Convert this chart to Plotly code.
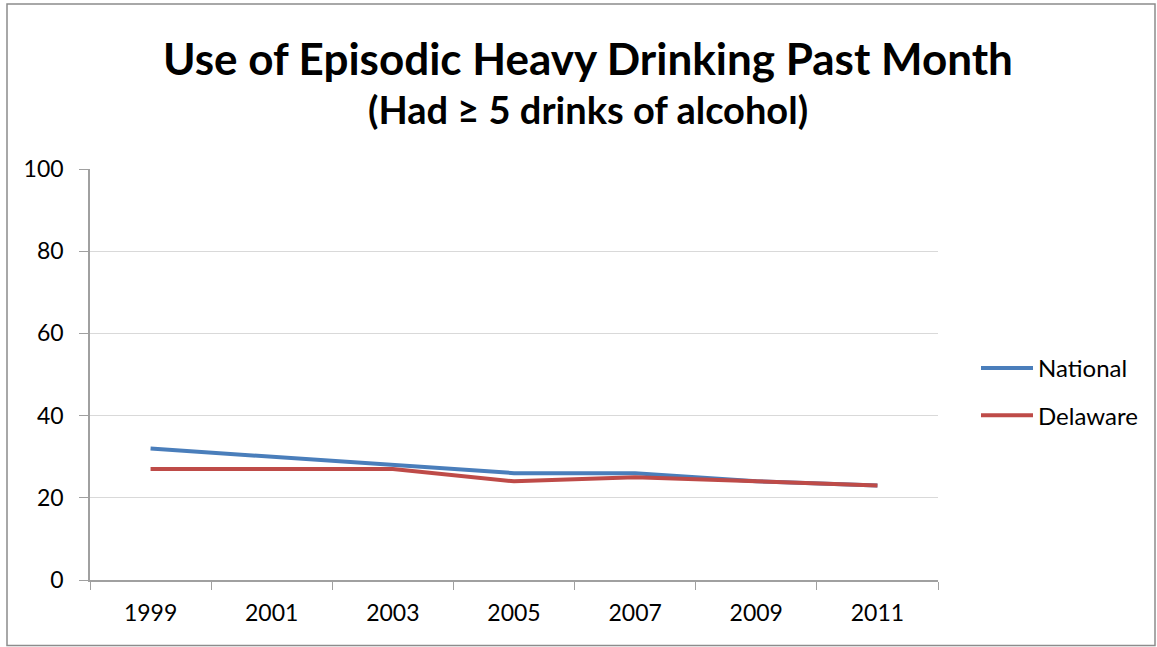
import plotly.graph_objects as go

years = ["1999", "2001", "2003", "2005", "2007", "2009", "2011"]
national = [32, 30, 28, 26, 26, 24, 23]
delaware = [27, 27, 27, 24, 25, 24, 23]

W, H = 1157, 647
L, R, T, B = 90, 219, 169, 67
pw = W - L - R
ph = H - T - B

fig = go.Figure()
fig.add_trace(go.Scatter(x=years, y=national, mode="lines", name="National",
                         line=dict(color="#4A7EBB", width=4), legendgroup="a"))
fig.add_trace(go.Scatter(x=years, y=delaware, mode="lines", name="Delaware",
                         line=dict(color="#BE4B48", width=4), legendgroup="b"))

font = "Lato, Calibri, 'Open Sans', sans-serif"

fig.update_layout(
    width=W, height=H,
    margin=dict(l=L, r=R, t=T, b=B),
    paper_bgcolor="white", plot_bgcolor="white",
    font=dict(family=font, size=23, color="#000000"),
    showlegend=True,
    legend=dict(x=(976 - L) / pw, y=(580 - 346) / ph, xanchor="left", yanchor="top",
                font=dict(size=24), traceorder="grouped", tracegroupgap=13,
                itemwidth=52, bgcolor="rgba(0,0,0,0)"),
    xaxis=dict(type="category", tickson="boundaries", ticks="outside", ticklen=8,
               tickcolor="#A0A0A0", showline=True, linecolor="#A0A0A0", linewidth=1.5,
               showgrid=False, ticklabelstandoff=12,
               tickfont=dict(size=23), range=[-0.5, 6.5], fixedrange=True),
    yaxis=dict(range=[0, 100], tickvals=[0, 20, 40, 60, 80, 100], ticks="outside",
               ticklen=9, tickcolor="#A0A0A0", showline=True, linecolor="#A0A0A0",
               linewidth=1.5, showgrid=True, gridcolor="#D9D9D9", gridwidth=1,
               zeroline=False, tickfont=dict(size=23), ticklabelstandoff=11),
)

fig.add_annotation(text="<b>Use of Episodic Heavy Drinking Past Month</b>",
                   xref="paper", yref="paper", x=(588 - L) / pw, y=(580 - 58) / ph,
                   xanchor="center", yanchor="middle", showarrow=False,
                   font=dict(size=44, family=font))
fig.add_annotation(text="<b>(Had ≥ 5 drinks of alcohol)</b>",
                   xref="paper", yref="paper", x=(588 - L) / pw, y=(580 - 109) / ph,
                   xanchor="center", yanchor="middle", showarrow=False,
                   font=dict(size=38, family=font))

fig.add_shape(type="rect", xref="paper", yref="paper",
              x0=(7 - L) / pw, x1=(1155 - L) / pw, y0=(580 - 645.5) / ph, y1=(580 - 4) / ph,
              line=dict(color="#8C8C8C", width=1.5), fillcolor="rgba(0,0,0,0)", layer="below")

fig.write_html("out.html", config={"displayModeBar": False},
               post_script="document.body.style.margin='0px';document.body.style.overflow='hidden';")
